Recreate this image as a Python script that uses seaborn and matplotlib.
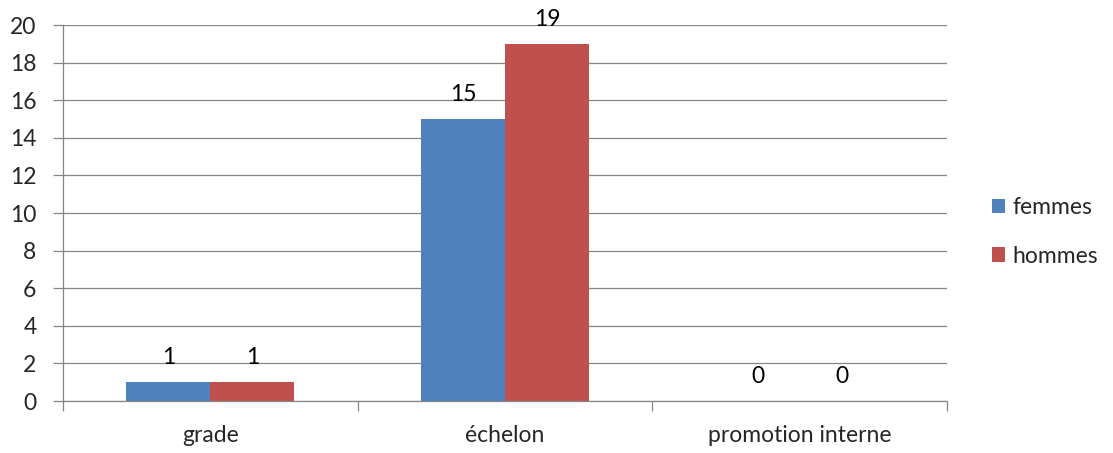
import matplotlib
matplotlib.use('Agg')
import matplotlib.pyplot as plt
import seaborn as sns
import pandas as pd

categories = ['grade', 'échelon', 'promotion interne']
femmes = [1, 15, 0]
hommes = [1, 19, 0]
series_names = ['femmes', 'hommes']
y_ticks = list(range(0, 21, 2))

df = pd.DataFrame({
    'categorie': categories * 2,
    'valeur': femmes + hommes,
    'serie': [series_names[0]] * 3 + [series_names[1]] * 3,
})

sns.set_style('white')
plt.rcParams['font.family'] = ['Lato', 'DejaVu Sans']
grid_col = '#868686'
fs = 16.5

fig = plt.figure(figsize=(11.13, 4.53), dpi=100)
ax = fig.add_axes([63 / 1113, 1 - 401 / 453, (947 - 63) / 1113, (401 - 25) / 453])

sns.barplot(data=df, x='categorie', y='valeur', hue='serie', order=categories,
            hue_order=series_names, palette=['#4F81BD', '#C0504D'],
            width=0.57, saturation=1, linewidth=0, ax=ax, legend=True)

for cont in ax.containers:
    ax.bar_label(cont, fontsize=fs, padding=10, color='#000000')

ax.set_xlim(-0.5, 2.5)
ax.set_ylim(0, 20)
ax.set_yticks(y_ticks)
ax.yaxis.grid(True, color=grid_col, linewidth=0.9)
ax.set_axisbelow(True)
ax.set_xlabel('')
ax.set_ylabel('')

for s in ['top', 'right']:
    ax.spines[s].set_visible(False)
for s in ['left', 'bottom']:
    ax.spines[s].set_color(grid_col)
    ax.spines[s].set_linewidth(0.9)

ax.set_xticks([-0.5, 0.5, 1.5, 2.5], minor=True)
ax.tick_params(axis='x', which='major', bottom=True, length=0, pad=17, labelsize=fs)
ax.tick_params(axis='x', which='minor', bottom=True, length=7, width=0.9, color=grid_col, direction='out')
ax.tick_params(axis='y', left=True, length=7, width=0.9, color=grid_col, direction='out', pad=12, labelsize=fs)

handles, labels = ax.get_legend_handles_labels()
ax.legend_.remove()
fig.legend(handles, labels, loc='center left', bbox_to_anchor=(971 / 1113, 1 - 232 / 453),
           frameon=False, fontsize=fs, handlelength=0.6, handleheight=0.6,
           handletextpad=0.3, labelspacing=1.2)

fig.savefig('out.png', dpi=100)
plt.close(fig)
